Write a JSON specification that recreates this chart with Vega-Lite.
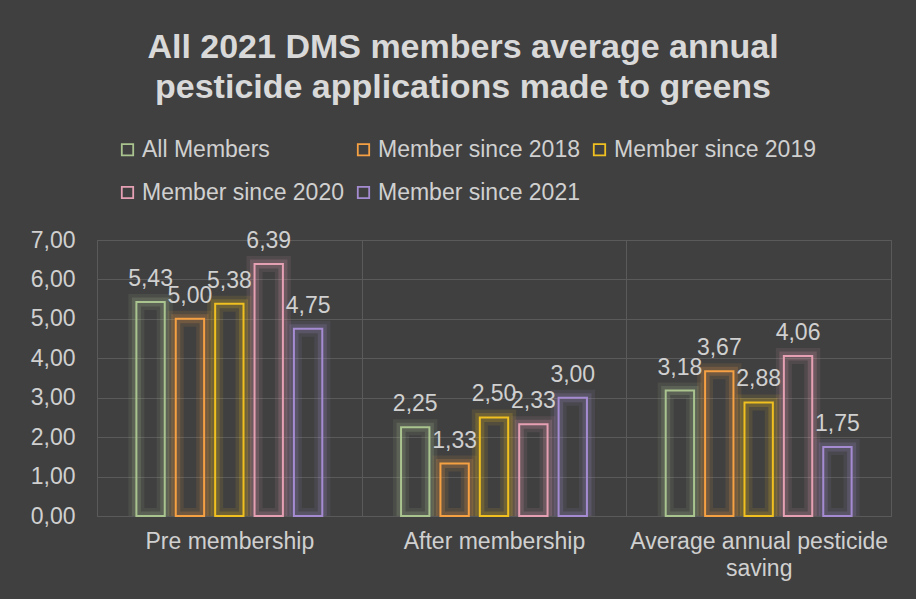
{
  "$schema": "https://vega.github.io/schema/vega-lite/v6.json",
  "width": 794,
  "height": 276,
  "autosize": {"type": "none"},
  "padding": {"left": 97, "top": 240, "right": 25, "bottom": 83},
  "background": "#404040",
  "title": {
    "text": ["All 2021 DMS members average annual", "pesticide applications made to greens"],
    "font": "Liberation Sans",
    "fontSize": 34,
    "fontWeight": "bold",
    "color": "#D9D9D9",
    "anchor": "middle",
    "dx": -31,
    "lineHeight": 40,
    "offset": 33
  },
  "config": {
    "locale": {"number": {"decimal": ",", "thousands": ".", "grouping": [3], "currency": ["", " €"]}},
    "font": "Liberation Sans",
    "view": {"stroke": "#5A5A5A", "strokeWidth": 1},
    "legend": {
      "orient": "none",
      "legendX": 19,
      "legendY": -102,
      "direction": "horizontal",
      "columns": 3,
      "padding": 0,
      "labelFontSize": 23,
      "labelColor": "#D0D0D0",
      "labelFont": "Liberation Sans",
      "symbolType": "square",
      "symbolSize": 130,
      "symbolStrokeWidth": 1.8,
      "symbolOpacity": 1,
      "columnPadding": 8,
      "rowPadding": 19,
      "labelOffset": 3,
      "labelLimit": 400
    }
  },
  "data": {
    "values": [
      {"phase": "Pre membership", "group": "All Members", "value": 5.43},
      {"phase": "Pre membership", "group": "Member since 2018", "value": 5.00},
      {"phase": "Pre membership", "group": "Member since 2019", "value": 5.38},
      {"phase": "Pre membership", "group": "Member since 2020", "value": 6.39},
      {"phase": "Pre membership", "group": "Member since 2021", "value": 4.75},
      {"phase": "After membership", "group": "All Members", "value": 2.25},
      {"phase": "After membership", "group": "Member since 2018", "value": 1.33},
      {"phase": "After membership", "group": "Member since 2019", "value": 2.50},
      {"phase": "After membership", "group": "Member since 2020", "value": 2.33},
      {"phase": "After membership", "group": "Member since 2021", "value": 3.00},
      {"phase": "Average annual pesticide saving", "group": "All Members", "value": 3.18},
      {"phase": "Average annual pesticide saving", "group": "Member since 2018", "value": 3.67},
      {"phase": "Average annual pesticide saving", "group": "Member since 2019", "value": 2.88},
      {"phase": "Average annual pesticide saving", "group": "Member since 2020", "value": 4.06},
      {"phase": "Average annual pesticide saving", "group": "Member since 2021", "value": 1.75}
    ]
  },
  "encoding": {
    "x": {
      "field": "phase",
      "type": "nominal",
      "sort": ["Pre membership", "After membership", "Average annual pesticide saving"],
      "scale": {"paddingInner": 0, "paddingOuter": 0},
      "axis": {
        "title": null,
        "labelAngle": 0,
        "labelFontSize": 23,
        "labelColor": "#D0D0D0",
        "labelPadding": 14,
        "labelLineHeight": 27,
        "labelLimit": 400,
        "labelExpr": "datum.label == 'Average annual pesticide saving' ? ['Average annual pesticide', 'saving'] : datum.label",
        "ticks": false,
        "domain": false,
        "grid": true,
        "tickBand": "extent",
        "gridColor": "#5A5A5A",
        "gridWidth": 1
      }
    },
    "xOffset": {
      "field": "group",
      "type": "nominal",
      "sort": ["All Members", "Member since 2018", "Member since 2019", "Member since 2020", "Member since 2021"],
      "scale": {"paddingInner": 0.28, "paddingOuter": 1.2}
    },
    "y": {
      "field": "value",
      "type": "quantitative",
      "scale": {"domain": [0, 7]},
      "axis": {
        "title": null,
        "format": ".2f",
        "values": [0, 1, 2, 3, 4, 5, 6, 7],
        "labelOverlap": false,
        "labelFontSize": 23,
        "labelColor": "#D0D0D0",
        "labelPadding": 22,
        "ticks": false,
        "domain": false,
        "gridColor": "#5A5A5A",
        "gridWidth": 1
      }
    },
    "color": {
      "field": "group",
      "type": "nominal",
      "sort": ["All Members", "Member since 2018", "Member since 2019", "Member since 2020", "Member since 2021"],
      "scale": {
        "domain": ["All Members", "Member since 2018", "Member since 2019", "Member since 2020", "Member since 2021"],
        "range": ["#A9C48F", "#F5A043", "#F0C020", "#E6A0B4", "#A58CD2"]
      },
      "legend": {"title": null}
    }
  },
  "layer": [
    {"mark": {"type": "bar", "filled": false, "strokeWidth": 16, "opacity": 0.1, "clip": true}},
    {"mark": {"type": "bar", "filled": false, "strokeWidth": 9, "opacity": 0.18, "clip": true}},
    {"mark": {"type": "bar", "filled": false, "strokeWidth": 2}},
    {
      "mark": {"type": "text", "baseline": "alphabetic", "dy": -16, "fontSize": 23, "color": "#D0D0D0"},
      "encoding": {
        "text": {"field": "value", "type": "quantitative", "format": ".2f"},
        "color": {"value": "#D0D0D0"}
      }
    }
  ]
}
